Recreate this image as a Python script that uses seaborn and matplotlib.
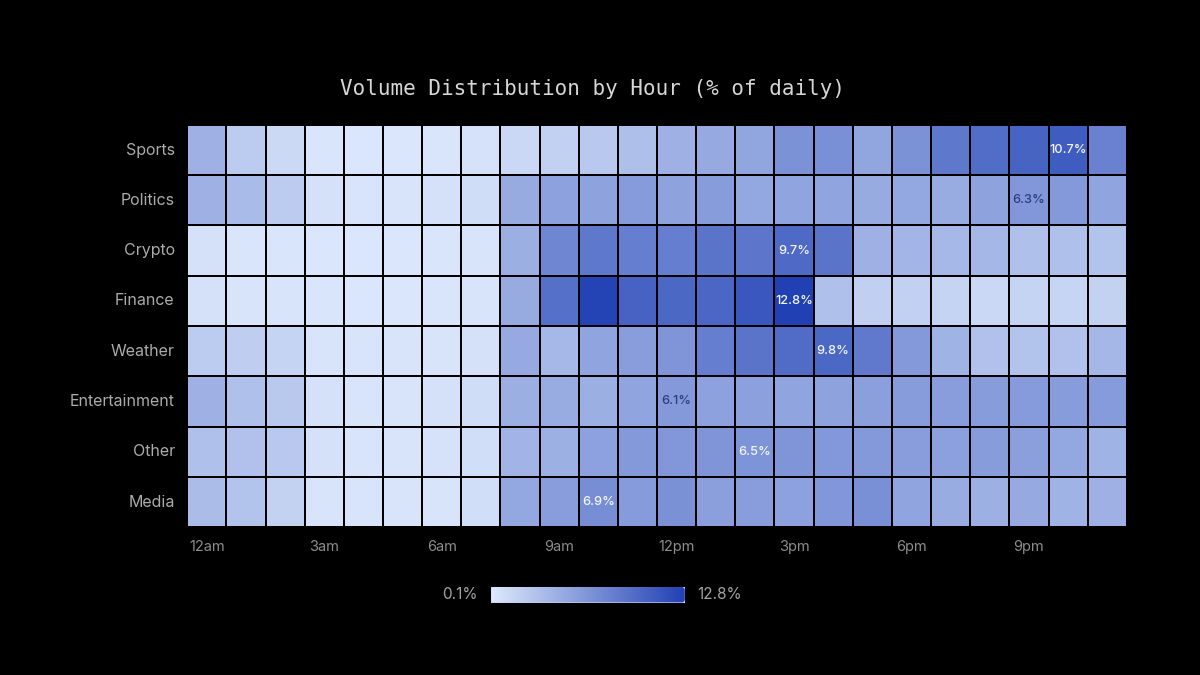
import numpy as np
import pandas as pd
import matplotlib
matplotlib.use("Agg")
import matplotlib.pyplot as plt
from matplotlib.colors import LinearSegmentedColormap
from matplotlib.patches import FancyBboxPatch
import seaborn as sns

categories = ["Sports", "Politics", "Crypto", "Finance", "Weather", "Entertainment", "Other", "Media"]
hours = ["12am", "1am", "2am", "3am", "4am", "5am", "6am", "7am", "8am", "9am", "10am", "11am",
         "12pm", "1pm", "2pm", "3pm", "4pm", "5pm", "6pm", "7pm", "8pm", "9pm", "10pm", "11pm"]
tick_labels = ["12am", "3am", "6am", "9am", "12pm", "3pm", "6pm", "9pm"]

sports = [4.3, 2.3, 1.3, 0.4, 0.35, 0.35, 0.4, 0.6, 1.4, 1.9, 2.6, 3.3, 4.3, 4.9, 5.2, 6.6, 6.8, 5.2, 6.6, 8.6, 9.4, 10.1, 10.7, 7.9]
politics = [4.3, 3.6, 2.3, 0.7, 0.5, 0.5, 0.7, 1.0, 4.8, 5.5, 5.4, 6.0, 5.4, 5.9, 5.1, 5.3, 5.3, 4.8, 5.1, 4.7, 5.4, 6.3, 6.1, 5.3]
crypto = [0.7, 0.4, 0.4, 0.35, 0.35, 0.35, 0.4, 0.5, 4.5, 7.5, 8.6, 8.1, 8.1, 8.9, 8.7, 9.7, 8.9, 4.3, 4.0, 3.8, 3.9, 3.2, 3.2, 3.0]
finance = [0.7, 0.5, 0.45, 0.4, 0.3, 0.3, 0.4, 0.45, 4.8, 9.2, 12.5, 10.2, 9.8, 9.9, 11.1, 12.8, 3.2, 2.0, 1.9, 1.7, 1.4, 1.7, 1.6, 1.8]
weather = [2.3, 2.2, 1.7, 0.5, 0.45, 0.45, 0.45, 0.7, 4.9, 3.8, 5.3, 5.8, 6.4, 8.1, 8.9, 9.5, 9.8, 8.5, 6.1, 4.2, 3.1, 3.0, 3.1, 3.9]
entertainment = [4.3, 3.2, 2.5, 0.7, 0.5, 0.5, 0.7, 1.0, 4.5, 4.7, 4.5, 5.3, 6.1, 5.5, 5.6, 5.3, 5.4, 5.7, 5.9, 5.8, 5.9, 6.0, 5.9, 6.0]
other = [3.2, 3.1, 2.6, 0.7, 0.5, 0.5, 0.6, 0.9, 4.1, 4.4, 5.5, 6.1, 6.3, 6.4, 6.5, 6.4, 6.2, 6.1, 5.8, 5.6, 5.9, 5.7, 5.1, 4.2]
media = [3.5, 3.0, 1.8, 0.5, 0.45, 0.45, 0.5, 0.9, 5.1, 5.8, 6.9, 6.0, 6.7, 5.7, 5.8, 5.5, 6.3, 6.8, 5.3, 4.7, 4.4, 4.9, 4.2, 4.3]

vmin_val, vmax_val = 0.1, 12.8

df = pd.DataFrame([sports, politics, crypto, finance, weather, entertainment, other, media],
                  index=categories, columns=hours)

cmap = LinearSegmentedColormap.from_list("vol", ["#dde9fc", "#2040b4"])

sns.set_theme(style="dark")
plt.rcParams["font.family"] = ["Inter", "DejaVu Sans"]

fig = plt.figure(figsize=(12, 6.75), dpi=100, facecolor="black")
ax = fig.add_axes([0.156, 0.219, 0.783, 0.596])
cax = fig.add_axes([0.409, 0.107, 0.162, 0.024])

sns.heatmap(df, ax=ax, cmap=cmap, vmin=vmin_val, vmax=vmax_val, linewidths=1.2, linecolor="black",
            cbar=True, cbar_ax=cax, cbar_kws={"orientation": "horizontal"})
ax.set_facecolor("black")

# annotate row peaks
for i, cat in enumerate(categories):
    row = df.loc[cat].values
    j = int(np.argmax(row))
    v = row[j]
    color = "#f4f6ff" if v > 6.4 else "#2c3d7c"
    ax.text(j + 0.5, i + 0.5, f"{v:.1f}%", ha="center", va="center", fontsize=9.2,
            fontweight="medium", color=color)

ax.set_xticks([hours.index(t) + 0.5 for t in tick_labels])
ax.set_xticklabels(tick_labels, rotation=0, color="#8c8c8c", fontsize=10.5)
ax.set_yticklabels(categories, rotation=0, color="#ababab", fontsize=11.5)
ax.tick_params(axis="both", length=0, pad=9)
ax.set_xlabel("")
ax.set_ylabel("")

fig.text(0.494, 0.868, "Volume Distribution by Hour (% of daily)", ha="center", va="center",
         fontsize=15, color="#d6d6d6", family=["DejaVu Sans Mono"])

# colorbar styling
cb = ax.collections[0].colorbar
cb.outline.set_visible(False)
cax.set_xticks([])
cax.set_yticks([])
clip = FancyBboxPatch((0, 0), 1, 1, boxstyle="round,pad=0,rounding_size=0.016",
                      mutation_aspect=12, transform=cax.transAxes, facecolor="none",
                      edgecolor="#c8d2f0", linewidth=0.6)
cax.add_patch(clip)
if cb.solids is not None:
    cb.solids.set_clip_path(clip)
cax.text(-0.07, 0.5, "0.1%", transform=cax.transAxes, ha="right", va="center", fontsize=11, color="#a3a3a3")
cax.text(1.06, 0.5, "12.8%", transform=cax.transAxes, ha="left", va="center", fontsize=11, color="#a3a3a3")

fig.savefig("out.png", dpi=100, facecolor="black")
